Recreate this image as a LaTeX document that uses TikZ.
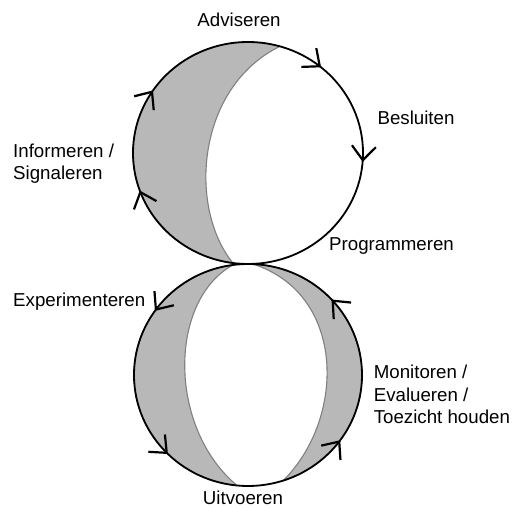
\documentclass[tikz,border=0pt]{standalone}
\usepackage{fontspec}
\setmainfont{Liberation Sans}
\usetikzlibrary{arrows.meta}
\usetikzlibrary{decorations.markings}
\tikzset{
  myloop/.style={
    draw=black,
    line width=1.8pt,
    postaction={decorate},
  },
  mylens/.style={
    fill=black!28,
    draw=black!50,
    line width=1.1pt,
  },
  mylabel/.style={
    inner sep=0pt,
    align=left,
    font=\fontsize{18.7}{22.5}\selectfont
  },
  >={Straight Barb[length=14pt,width=24pt,line width=2.2pt]},
}

\begin{document}
\begin{tikzpicture}[x=1pt,y=1pt]
  \useasboundingbox (0,0) rectangle (515,508);
  \coordinate (top) at (248,355);
  \coordinate (bot) at (248,133);

  % shaded parts
  \path[mylens] (279.7,461.6) arc[start angle=74, end angle=262.5, x radius=115pt, y radius=111pt]
     .. controls (188,300) and (196,420) .. (279.7,461.6);
  \path[mylens] (232.9,243) arc[start angle=97.6, end angle=264.5, x radius=114pt, y radius=111pt]
     .. controls (168,80) and (168,207) .. (232.9,243);
  \path[mylens] (253,243.9) arc[start angle=87.5, end angle=-72, x radius=114pt, y radius=111pt]
     .. controls (346,90) and (346,214) .. (253,243.9);

  % the two loops
  \draw[myloop, decoration={markings,
      mark=at position 0.0125 with {\arrow{>}},
      mark=at position 0.446 with {\arrow{>}},
      mark=at position 0.594 with {\arrow{>}},
      mark=at position 0.861 with {\arrow{>}}}]
    (top) ++(115,0) arc[start angle=0, end angle=-360, x radius=115pt, y radius=111pt];
  \draw[myloop, decoration={markings,
      mark=at position 0.118 with {\arrow{>}},
      mark=at position 0.403 with {\arrow{>}},
      mark=at position 0.625 with {\arrow{>}},
      mark=at position 0.901 with {\arrow{>}}}]
    (bot) ++(114,0) arc[start angle=0, end angle=360, x radius=114pt, y radius=111pt];

  % labels
  \node[mylabel, anchor=base] (advise) at (239,481) {Adviseren};
  \node[mylabel, anchor=base] (decide) at (416,383) {Besluiten};
  \node[mylabel, anchor=base west] (program) at (329,257) {Programmeren};
  \node[mylabel, anchor=north west] (inform) at (13,364.7) {Informeren /\\Signaleren};
  \node[mylabel, anchor=base west] (experiment) at (13,201) {Experimenteren};
  \node[mylabel, anchor=north west] (monitor) at (373.6,143) {Monitoren /\\Evalueren /\\Toezicht houden};
  \node[mylabel, anchor=base] (execute) at (243,3) {Uitvoeren};
\end{tikzpicture}
\end{document}
